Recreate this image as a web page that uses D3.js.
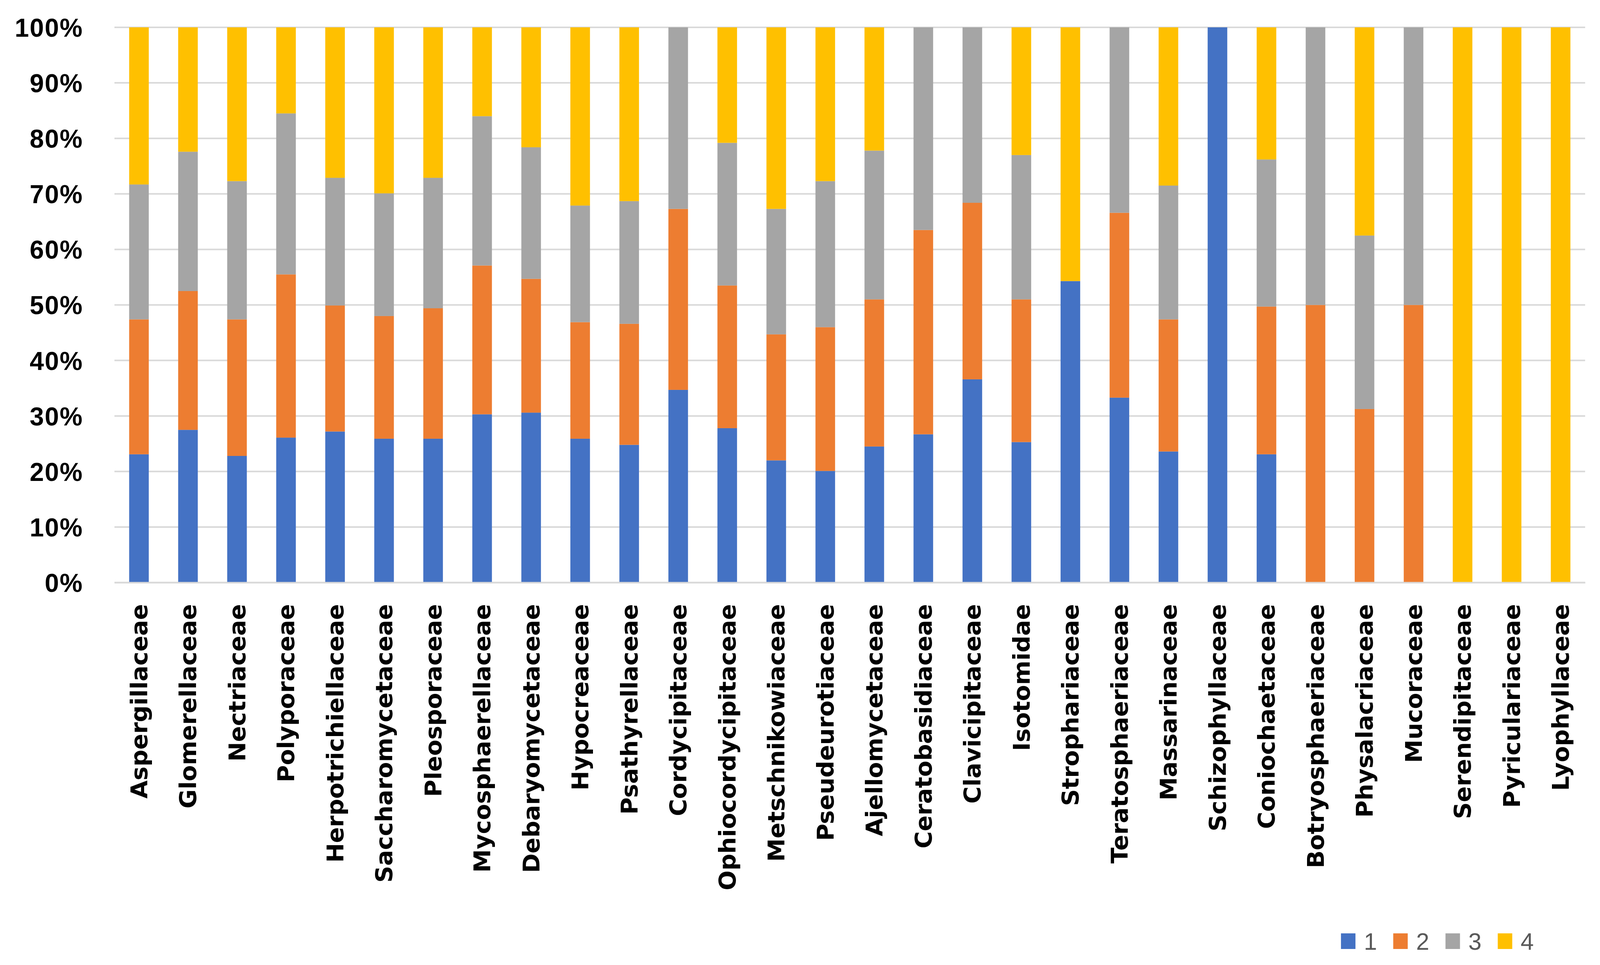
<!DOCTYPE html>
<html>
<head>
<meta charset="utf-8">
<script src="https://cdn.jsdelivr.net/npm/d3@7"></script>
<style>
  html, body { margin: 0; padding: 0; background: #fff; overflow: hidden; }
  svg { display: block; width: 100vw; height: 100vh; }
</style>
</head>
<body>
<div id="chart"></div>
<script>
var families = ["Aspergillaceae","Glomerellaceae","Nectriaceae","Polyporaceae","Herpotrichiellaceae",
  "Saccharomycetaceae","Pleosporaceae","Mycosphaerellaceae","Debaryomycetaceae","Hypocreaceae",
  "Psathyrellaceae","Cordycipitaceae","Ophiocordycipitaceae","Metschnikowiaceae","Pseudeurotiaceae",
  "Ajellomycetaceae","Ceratobasidiaceae","Clavicipitaceae","Isotomidae","Strophariaceae",
  "Teratosphaeriaceae","Massarinaceae","Schizophyllaceae","Coniochaetaceae","Botryosphaeriaceae",
  "Physalacriaceae","Mucoraceae","Serendipitaceae","Pyriculariaceae","Lyophyllaceae"];

// percentages per class
var s1 = [23.1,27.5,22.8,26.1,27.2,25.9,25.9,30.3,30.6,25.9,24.8,34.7,27.8,22.0,20.1,24.5,26.7,36.6,25.3,54.3,33.3,23.6,100,23.1,0,0,0,0,0,0];
var s2 = [24.3,25.0,24.6,29.4,22.7,22.1,23.5,26.8,24.1,21.0,21.8,32.6,25.7,22.7,25.9,26.5,36.8,31.8,25.7,0,33.3,23.8,0,26.6,50,31.25,50,0,0,0];
var s3 = [24.3,25.1,24.9,29.0,23.0,22.1,23.5,26.9,23.7,21.0,22.1,32.7,25.7,22.6,26.3,26.8,36.5,31.6,26.0,0,33.4,24.1,0,26.5,50,31.25,50,0,0,0];
var s4 = [28.3,22.4,27.7,15.5,27.1,29.9,27.1,16.0,21.6,32.1,31.3,0,20.8,32.7,27.7,22.2,0,0,23.0,45.7,0,28.5,0,23.8,0,37.5,0,100,100,100];

var seriesKeys = ["1","2","3","4"];
var colors = ["#4472C4","#ED7D31","#A5A5A5","#FFC000"];
var yTicks = [0,10,20,30,40,50,60,70,80,90,100];

var W = 4194, H = 2470;
var margin = {left: 300, right: 39, top: 70, bottom: 979};

var rows = families.map(function(f, i){
  return {name: f, "1": s1[i], "2": s2[i], "3": s3[i], "4": s4[i]};
});
var stacked = d3.stack().keys(seriesKeys)(rows);

// viewBox so the whole chart always fills the window
var svg = d3.select("#chart").append("svg")
  .attr("viewBox", "0 0 " + W + " " + H)
  .attr("preserveAspectRatio", "none");

var x = d3.scaleBand()
  .domain(families)
  .range([margin.left, W - margin.right])
  .paddingInner(0.6)
  .paddingOuter(0.3);

var y = d3.scaleLinear()
  .domain([0, 100])
  .range([H - margin.bottom, margin.top]);

// gridlines
svg.append("g")
  .selectAll("line")
  .data(yTicks)
  .enter().append("line")
    .attr("x1", margin.left)
    .attr("x2", W - margin.right)
    .attr("y1", function(d){ return y(d); })
    .attr("y2", function(d){ return y(d); })
    .style("stroke", "#d9d9d9")
    .style("stroke-width", 4);

// y labels
var yAxis = svg.append("g")
  .attr("transform", "translate(" + (margin.left - 82) + ",0)")
  .call(d3.axisLeft(y).tickValues(yTicks).tickSize(0).tickFormat(function(d){ return d + "%"; }));
yAxis.select(".domain").remove();
yAxis.selectAll("text")
  .attr("x", 0)
  .attr("dy", "0.35em")
  .style("font-family", "'Liberation Sans', Arial, sans-serif")
  .style("font-weight", "bold")
  .style("font-size", "67px")
  .style("letter-spacing", "2px")
  .style("fill", "#000");

// bars
svg.append("g")
  .selectAll("g")
  .data(stacked)
  .enter().append("g")
    .style("fill", function(d, i){ return colors[i]; })
  .selectAll("rect")
  .data(function(d){ return d; })
  .enter().append("rect")
    .attr("x", function(d){ return x(d.data.name); })
    .attr("width", x.bandwidth())
    .attr("y", function(d){ return y(d[1]); })
    .attr("height", function(d){ return y(d[0]) - y(d[1]); });

// x labels
var xAxis = svg.append("g")
  .attr("transform", "translate(0," + y(0) + ")")
  .call(d3.axisBottom(x).tickSize(0));
xAxis.select(".domain")
  .style("stroke", "#d9d9d9")
  .style("stroke-width", 4);
xAxis.selectAll("text")
  .attr("transform", "rotate(-90)")
  .attr("x", -55)
  .attr("y", 0)
  .attr("dy", "0.36em")
  .style("text-anchor", "end")
  .style("font-family", "'DejaVu Sans', Verdana, sans-serif")
  .style("font-weight", "bold")
  .style("font-size", "60px")
  .style("fill", "#000");

// legend
var legend = svg.selectAll(".legend")
  .data(seriesKeys)
  .enter().append("g")
    .attr("class", "legend")
    .attr("transform", function(d, i){ return "translate(" + (3515 + i * 137) + ",2389)"; });
legend.append("rect")
  .attr("width", 38)
  .attr("height", 40)
  .style("fill", function(d, i){ return colors[i]; });
legend.append("text")
  .attr("x", 60)
  .attr("y", 20)
  .attr("dy", "0.36em")
  .style("font-family", "'Liberation Sans', Arial, sans-serif")
  .style("font-size", "62px")
  .style("fill", "#595959")
  .text(function(d){ return d; });
</script>
</body>
</html>
